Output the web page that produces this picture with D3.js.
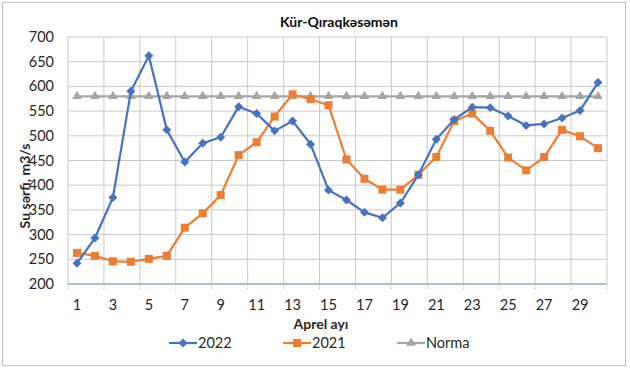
<!DOCTYPE html>
<html>
<head>
<meta charset="utf-8">
<script src="https://cdn.jsdelivr.net/npm/d3@7"></script>
<style>
  html, body { margin: 0; padding: 0; background: #fff; }
  svg { display: block; font-family: Lato, "Open Sans", sans-serif; }
</style>
</head>
<body>
<svg id="chart" width="630" height="371"></svg>
<script>
// günlər (Aprel)
const days = d3.range(1, 31);
const tickDays = days.filter(d => d % 2 === 1);
const yTicks = [200, 250, 300, 350, 400, 450, 500, 550, 600, 650, 700];

// su sərfi, m3/s
const flow2022 = [242, 293, 375, 590, 662, 512, 447, 485, 497, 559,
                  545, 510, 530, 483, 390, 370, 345, 334, 364, 421,
                  493, 533, 558, 557, 540, 521, 524, 536, 551, 608];
const flow2021 = [263, 257, 246, 245, 251, 257, 314, 343, 380, 461,
                  487, 539, 584, 574, 562, 452, 413, 391, 391, 421,
                  457, 530, 545, 510, 456, 430, 457, 512, 499, 475];
const norma = days.map(() => 580);

// Excel tipli romb (45° dönmüş kvadrat)
const squareDiamond = {
    draw(context, size) {
        const r = Math.sqrt(size / 2);
        context.moveTo(0, -r);
        context.lineTo(r, 0);
        context.lineTo(0, r);
        context.lineTo(-r, 0);
        context.closePath();
    }
};

const series = [
    { name: '2022', values: flow2022, color: '#4472c4', shape: squareDiamond, size: 40 },
    { name: '2021', values: flow2021, color: '#ed7d31', shape: d3.symbolSquare, size: 64 },
    { name: 'Norma', values: norma, color: '#a5a5a5', shape: d3.symbolTriangle, size: 40 }
];

const svg = d3.select("#chart");

// çərçivə
svg.append("rect")
    .attr("x", 2.5).attr("y", 2.5)
    .attr("width", 623).attr("height", 363)
    .attr("fill", "#fff")
    .attr("stroke", "#bfbfbf");

const x = d3.scaleBand().domain(days).range([68, 607]);
const y = d3.scaleLinear().domain([200, 700]).range([284, 37]);
const bw = x.bandwidth();

// horizontal grid
svg.append("g")
    .selectAll("line")
    .data(yTicks.slice(1))
    .join("line")
    .attr("x1", 68).attr("x2", 607)
    .attr("y1", d => y(d)).attr("y2", d => y(d))
    .attr("stroke", "#c9c9c9")
    .attr("stroke-width", 1);

// vertical grid, hər iki gündən bir
const bounds = d3.range(0, 31, 2).map(i => 68 + i * bw);
svg.append("g")
    .selectAll("line")
    .data(bounds)
    .join("line")
    .attr("x1", d => d).attr("x2", d => d)
    .attr("y1", y(700)).attr("y2", y(200))
    .attr("stroke", "#c9c9c9")
    .attr("stroke-width", 1);

// x oxu
svg.append("line")
    .attr("x1", 68).attr("x2", 607)
    .attr("y1", y(200)).attr("y2", y(200))
    .attr("stroke", "#8faadc")
    .attr("stroke-width", 1.3);

svg.append("g")
    .selectAll("line")
    .data(bounds)
    .join("line")
    .attr("x1", d => d).attr("x2", d => d)
    .attr("y1", y(200)).attr("y2", y(200) + 5)
    .attr("stroke", "#b4b4b4")
    .attr("stroke-dasharray", "1,1");

svg.append("g")
    .selectAll("text")
    .data(tickDays)
    .join("text")
    .attr("x", d => x(d) + bw / 2)
    .attr("y", 310)
    .attr("text-anchor", "middle")
    .attr("font-size", 14.5)
    .attr("fill", "#262626")
    .text(d => d);

// y oxu
svg.append("g")
    .selectAll("text")
    .data(yTicks)
    .join("text")
    .attr("x", 54)
    .attr("y", d => y(d) + 5)
    .attr("text-anchor", "end")
    .attr("font-size", 14.5)
    .attr("fill", "#262626")
    .text(d => d);

// başlıqlar
svg.append("text")
    .attr("x", 339).attr("y", 27)
    .attr("text-anchor", "middle")
    .attr("font-size", 14)
    .attr("font-weight", "bold")
    .attr("fill", "#0d0d0d")
    .text("Kür-Qıraqkəsəmən");

svg.append("text")
    .attr("x", 321).attr("y", 329)
    .attr("text-anchor", "middle")
    .attr("font-size", 14)
    .attr("font-weight", "bold")
    .attr("fill", "#262626")
    .text("Aprel ayı");

svg.append("text")
    .attr("transform", "translate(30,186) rotate(-90)")
    .attr("text-anchor", "middle")
    .attr("font-size", 14)
    .attr("font-weight", "bold")
    .attr("fill", "#262626")
    .text("Su sərfi, m3/s");

// xətlər
const line = d3.line()
    .x((d, i) => x(days[i]) + bw / 2)
    .y(d => y(d));

[...series].reverse().forEach(s => {
    const g = svg.append("g");
    g.append("path")
        .datum(s.values)
        .attr("d", line)
        .attr("fill", "none")
        .attr("stroke", s.color)
        .attr("stroke-width", 2.2)
        .attr("stroke-linejoin", "round");
    g.selectAll("path.mark")
        .data(s.values)
        .join("path")
        .attr("class", "mark")
        .attr("transform", (d, i) => `translate(${x(days[i]) + bw / 2},${y(d)})`)
        .attr("d", d3.symbol().type(s.shape).size(s.size))
        .attr("fill", s.color);
});

// legend
const legendX = [169, 283, 397];
const legend = svg.append("g")
    .selectAll("g")
    .data(series)
    .join("g")
    .attr("transform", (d, i) => `translate(${legendX[i]},343)`);

legend.append("line")
    .attr("x1", 0).attr("x2", 28)
    .attr("stroke", d => d.color)
    .attr("stroke-width", 2.2);
legend.append("path")
    .attr("transform", "translate(14,0)")
    .attr("d", d => d3.symbol().type(d.shape).size(d.size)())
    .attr("fill", d => d.color);
legend.append("text")
    .attr("x", 29).attr("y", 5)
    .attr("font-size", 14.5)
    .attr("fill", "#262626")
    .text(d => d.name);
</script>
</body>
</html>
